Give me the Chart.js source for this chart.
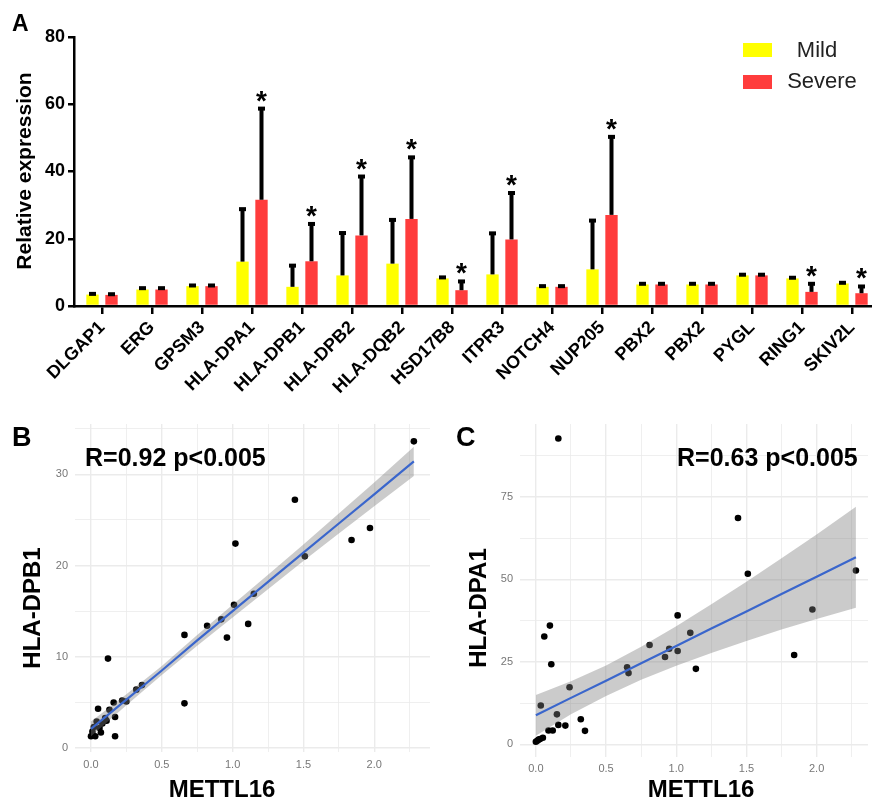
<!DOCTYPE html>
<html>
<head>
<meta charset="utf-8">
<title>METTL16 expression figure</title>
<script src="https://cdn.jsdelivr.net/npm/chart.js@4.4.0/dist/chart.umd.min.js"></script>
<style>
    html, body { margin: 0; padding: 0; background: #fff; }
    #figure { position: relative; width: 872px; height: 803px; overflow: hidden; }
    .panel { position: absolute; }
</style>
</head>
<body>
<div id="figure">
    <div class="panel" style="left:0;top:0;width:872px;height:420px"><canvas id="bar-chart"></canvas></div>
    <div class="panel" style="left:0;top:420px;width:436px;height:383px"><canvas id="scatter-b"></canvas></div>
    <div class="panel" style="left:436px;top:420px;width:436px;height:383px"><canvas id="scatter-c"></canvas></div>
</div>
<script>
// Panel A - relative expression, mild vs severe
const genes = ['DLGAP1', 'ERG', 'GPSM3', 'HLA-DPA1', 'HLA-DPB1', 'HLA-DPB2', 'HLA-DQB2', 'HSD17B8',
    'ITPR3', 'NOTCH4', 'NUP205', 'PBX2', 'PBX2', 'PYGL', 'RING1', 'SKIV2L'];
const mildMean = [3.4, 4.9, 5.9, 13.2, 5.7, 9.1, 12.6, 8.2, 9.4, 5.7, 10.9, 6.4, 6.4, 9.1, 8.2, 6.7];
const mildErrTop = [3.9, 5.6, 6.4, 29.1, 12.3, 22.0, 25.9, 8.8, 21.9, 6.2, 25.7, 6.9, 6.9, 9.6, 8.7, 7.2];
const severeMean = [3.3, 4.9, 5.9, 31.6, 13.3, 21.0, 25.9, 4.7, 19.8, 5.7, 27.1, 6.4, 6.4, 9.1, 4.2, 3.8];
const severeErrTop = [3.8, 5.6, 6.4, 59.0, 24.7, 38.8, 44.5, 7.6, 33.9, 6.2, 50.6, 6.9, 6.9, 9.6, 6.9, 6.1];
const significant = [false, false, false, true, true, true, true, true, true, false, true, false, false, false, true, true];
const expressionTicks = [0, 20, 40, 60, 80];

// Panel B - METTL16 vs HLA-DPB1
const bMettl16 = [2.28, 1.44, 1.97, 1.84, 1.02, 1.51, 1.15, 1.01, 0.92, 0.82, 1.11, 0.96, 0.66, 0.66, 0.12, 0.36, 0.32,
    0.22, 0.16, 0.25, 0.05, 0.13, 0.17, 0.11, 0.17, 0.07, 0.04, 0.02, 0.00, 0.01, 0.03, 0.06, 0.10, 0.08];
const bDpb1 = [33.6, 27.2, 24.1, 22.8, 22.4, 21.0, 16.9, 15.7, 14.1, 13.4, 13.6, 12.1, 12.4, 4.9, 9.8, 6.9, 6.4,
    5.2, 5.0, 5.1, 4.3, 4.2, 3.4, 3.0, 1.3, 1.7, 2.9, 2.3, 1.3, 1.8, 1.3, 2.2, 3.3, 2.7];
const bFitX = [0, 0.25, 0.5, 0.75, 1.0, 1.25, 1.5, 1.75, 2.0, 2.28];
const bFit = [2.1, 5.3, 8.5, 11.8, 15.0, 18.2, 21.4, 24.6, 27.8, 31.4];
const bLower = [1.3, 4.7, 8.0, 11.2, 14.3, 17.4, 20.5, 23.5, 26.5, 29.8];
const bUpper = [2.9, 5.9, 9.0, 12.4, 15.7, 19.0, 22.3, 25.7, 29.1, 33.0];
const bGridY = [0, 5, 10, 15, 20, 25, 30, 35];
const bLabelY = [0, 10, 20, 30];

// Panel C - METTL16 vs HLA-DPA1
const cMettl16 = [0.16, 1.44, 1.51, 2.28, 1.97, 1.01, 1.10, 1.84, 0.81, 0.95, 1.01, 0.92, 1.14, 0.65, 0.66, 0.10,
    0.06, 0.11, 0.24, 0.035, 0.15, 0.16, 0.21, 0.32, 0.35, 0.09, 0.12, 0.05, 0.02, 0.00, 0.01, 0.03];
const cDpa1 = [92.7, 68.6, 51.7, 52.7, 40.9, 39.1, 33.8, 27.1, 30.1, 29.0, 28.3, 26.5, 22.9, 23.4, 21.6, 36.0,
    32.7, 24.3, 17.3, 11.8, 9.1, 5.9, 5.7, 7.6, 4.1, 4.2, 4.2, 2.0, 1.5, 0.8, 1.1, 1.6];
const cFitX = [0, 0.25, 0.5, 0.75, 1.0, 1.25, 1.5, 1.75, 2.0, 2.28];
const cFit = [8.8, 14.1, 19.3, 24.6, 29.8, 35.1, 40.3, 45.6, 50.8, 56.7];
const cLower = [2.6, 9.1, 14.7, 19.6, 23.8, 27.7, 31.3, 34.8, 38.0, 41.4];
const cUpper = [15.0, 19.1, 23.9, 29.6, 35.8, 42.5, 49.3, 56.4, 63.6, 72.0];
const cGridY = [0, 12.5, 25, 37.5, 50, 62.5, 75, 87.5];
const cLabelY = [0, 25, 50, 75];

const mettlGrid = [0, 0.25, 0.5, 0.75, 1.0, 1.25, 1.5, 1.75, 2.0, 2.25];
const mettlLabels = [0, 0.5, 1.0, 1.5, 2.0];

Chart.defaults.font.family = "'Liberation Sans', Arial, sans-serif";
Chart.defaults.animation = false;

const MILD = '#ffff00';
const SEVERE = '#ff3c3c';

function drawText(ctx, text, x, y, font, align, color, angle) {
    ctx.save();
    ctx.font = font;
    ctx.fillStyle = color || '#000';
    ctx.textAlign = align || 'left';
    ctx.textBaseline = 'middle';
    ctx.translate(x, y);
    if (angle) ctx.rotate(angle);
    ctx.fillText(text, 0, 0);
    ctx.restore();
}

// error bars, stars, legend and titles for panel A
const barOverlay = {
    id: 'barOverlay',
    afterDatasetsDraw(chart) {
        const ctx = chart.ctx;
        const yScale = chart.scales.y;
        const errTops = [mildErrTop, severeErrTop];
        ctx.save();
        ctx.fillStyle = '#000';
        errTops.forEach((tops, d) => {
            const meta = chart.getDatasetMeta(d);
            meta.data.forEach((bar, i) => {
                const top = yScale.getPixelForValue(tops[i]);
                ctx.fillRect(bar.x - 2, top, 4, bar.y - top);
                ctx.fillRect(bar.x - 3.5, top - 1, 7, 4);
                if (d === 1 && significant[i]) {
                    ctx.font = "bold 28px 'Liberation Sans', Arial, sans-serif";
                    ctx.textAlign = 'center';
                    ctx.textBaseline = 'alphabetic';
                    ctx.fillText('*', bar.x, top + 2);
                }
            });
        });
        ctx.restore();
    },
    afterDraw(chart) {
        const ctx = chart.ctx;
        drawText(ctx, 'A', 12, 25, "bold 23px 'Liberation Sans', Arial, sans-serif");
        drawText(ctx, 'Relative expression', 25, 171, "bold 21px 'Liberation Sans', Arial, sans-serif", 'center', '#000', -Math.PI / 2);
        ctx.save();
        ctx.fillStyle = MILD;
        ctx.fillRect(743, 43, 29, 14);
        ctx.fillStyle = SEVERE;
        ctx.fillRect(743, 75, 29, 14);
        ctx.restore();
        drawText(ctx, 'Mild', 817, 51, "22px 'Liberation Sans', Arial, sans-serif", 'center', '#222');
        drawText(ctx, 'Severe', 822, 82, "22px 'Liberation Sans', Arial, sans-serif", 'center', '#222');
    }
};

new Chart(document.getElementById('bar-chart'), {
    type: 'bar',
    data: {
        datasets: [{
            label: 'Mild',
            data: genes.map((g, i) => ({ x: i, y: mildMean[i] })),
            backgroundColor: MILD
        }, {
            label: 'Severe',
            data: genes.map((g, i) => ({ x: i, y: severeMean[i] })),
            backgroundColor: SEVERE
        }]
    },
    options: {
        responsive: true,
        maintainAspectRatio: false,
        layout: { padding: { top: 37, left: 0, right: 0, bottom: 0 } },
        datasets: { bar: { categoryPercentage: 0.76, barPercentage: 0.65 } },
        plugins: { legend: { display: false }, tooltip: { enabled: false } },
        scales: {
            x: {
                type: 'linear',
                offset: false,
                min: -0.56,
                max: 15.4,
                afterBuildTicks: (scale) => { scale.ticks = genes.map((g, i) => ({ value: i })); },
                afterFit: (scale) => { scale.height = 114; scale.paddingLeft = 0; scale.paddingRight = 0; },
                ticks: {
                    autoSkip: false,
                    minRotation: 45,
                    maxRotation: 45,
                    padding: 3,
                    color: '#000',
                    font: { size: 18, weight: 'bold' },
                    callback: (value) => genes[value]
                },
                grid: { offset: false, drawOnChartArea: false, color: '#000', lineWidth: 2.5, tickLength: 8 },
                border: { color: '#000', width: 2.5 }
            },
            y: {
                min: 0,
                max: 80,
                afterBuildTicks: (scale) => { scale.ticks = expressionTicks.map(v => ({ value: v })); },
                afterFit: (scale) => { scale.width = 74; scale.paddingTop = 0; scale.paddingBottom = 0; },
                ticks: { color: '#000', padding: 3, font: { size: 18, weight: 'bold' } },
                grid: { drawOnChartArea: false, color: '#000', lineWidth: 2.5, tickLength: 6 },
                border: { color: '#000', width: 2.5 }
            }
        }
    },
    plugins: [barOverlay]
});

function scatterOverlay(letter, letterX, stat, statX, yTitle, yTitleX, xTitleX) {
    return {
        id: 'scatterOverlay' + letter,
        afterDraw(chart) {
            const ctx = chart.ctx;
            drawText(ctx, letter, letterX, 19, "bold 27px 'Liberation Sans', Arial, sans-serif");
            drawText(ctx, stat, statX, 39, "bold 25px 'Liberation Sans', Arial, sans-serif");
            drawText(ctx, yTitle, yTitleX, 188, "bold 24px 'Liberation Sans', Arial, sans-serif", 'center', '#000', -Math.PI / 2);
            drawText(ctx, 'METTL16', xTitleX, 370, "bold 24px 'Liberation Sans', Arial, sans-serif", 'center');
        }
    };
}

function createScatter(canvasId, xs, ys, fitX, fit, lower, upper, opts) {
    const toPoints = (vals) => fitX.map((x, i) => ({ x: x, y: vals[i] }));
    return new Chart(document.getElementById(canvasId), {
        type: 'scatter',
        data: {
            datasets: [{
                type: 'line',
                data: toPoints(fit),
                borderColor: '#3a66cc',
                borderWidth: 2.2,
                pointRadius: 0,
                fill: false,
                order: 1
            }, {
                type: 'line',
                data: toPoints(lower),
                borderWidth: 0,
                borderColor: 'rgba(0,0,0,0)',
                pointRadius: 0,
                fill: false,
                order: 2
            }, {
                type: 'line',
                data: toPoints(upper),
                borderWidth: 0,
                borderColor: 'rgba(0,0,0,0)',
                pointRadius: 0,
                fill: '-1',
                backgroundColor: 'rgba(125,125,125,0.4)',
                order: 2
            }, {
                data: xs.map((x, i) => ({ x: x, y: ys[i] })),
                backgroundColor: '#000',
                borderWidth: 0,
                pointRadius: 3.3,
                order: 3
            }]
        },
        options: {
            responsive: true,
            maintainAspectRatio: false,
            layout: { padding: opts.padding },
            plugins: { legend: { display: false }, tooltip: { enabled: false } },
            scales: {
                x: {
                    type: 'linear',
                    min: -0.113,
                    max: opts.xMax,
                    afterBuildTicks: (scale) => { scale.ticks = mettlGrid.map(v => ({ value: v })); },
                    afterFit: (scale) => { scale.height = opts.xHeight; scale.paddingLeft = 0; scale.paddingRight = 0; },
                    ticks: {
                        autoSkip: false,
                        maxRotation: 0,
                        padding: 6,
                        color: '#777',
                        font: { size: 11 },
                        callback: (value) => mettlLabels.includes(value) ? value.toFixed(1) : ''
                    },
                    grid: {
                        drawTicks: false,
                        color: '#ebebeb',
                        lineWidth: (c) => mettlLabels.includes(c.tick.value) ? 1.4 : 0.8
                    },
                    border: { display: false }
                },
                y: {
                    min: opts.yMin,
                    max: opts.yMax,
                    afterBuildTicks: (scale) => { scale.ticks = opts.gridY.map(v => ({ value: v })); },
                    afterFit: (scale) => { scale.width = opts.yWidth; scale.paddingTop = 0; scale.paddingBottom = 0; },
                    ticks: {
                        padding: 7,
                        color: '#777',
                        font: { size: 11 },
                        callback: (value) => opts.labelY.includes(value) ? String(value) : ''
                    },
                    grid: {
                        drawTicks: false,
                        color: '#ebebeb',
                        lineWidth: (c) => opts.labelY.includes(c.tick.value) ? 1.4 : 0.8
                    },
                    border: { display: false }
                }
            }
        },
        plugins: [opts.overlay]
    });
}

createScatter('scatter-b', bMettl16, bDpb1, bFitX, bFit, bLower, bUpper, {
    padding: { top: 0, right: 6, bottom: 0, left: 0 },
    xMax: 2.394, xHeight: 51, yWidth: 75,
    yMin: -0.43, yMax: 35.5, gridY: bGridY, labelY: bLabelY,
    overlay: scatterOverlay('B', 12, 'R=0.92 p<0.005', 85, 'HLA-DPB1', 33, 222)
});

createScatter('scatter-c', cMettl16, cDpa1, cFitX, cFit, cLower, cUpper, {
    padding: { top: 2, right: 0, bottom: 0, left: 0 },
    xMax: 2.366, xHeight: 46.4, yWidth: 84,
    yMin: -3.7, yMax: 97.1, gridY: cGridY, labelY: cLabelY,
    overlay: scatterOverlay('C', 20, 'R=0.63 p<0.005', 241, 'HLA-DPA1', 43, 265)
});
</script>
</body>
</html>
